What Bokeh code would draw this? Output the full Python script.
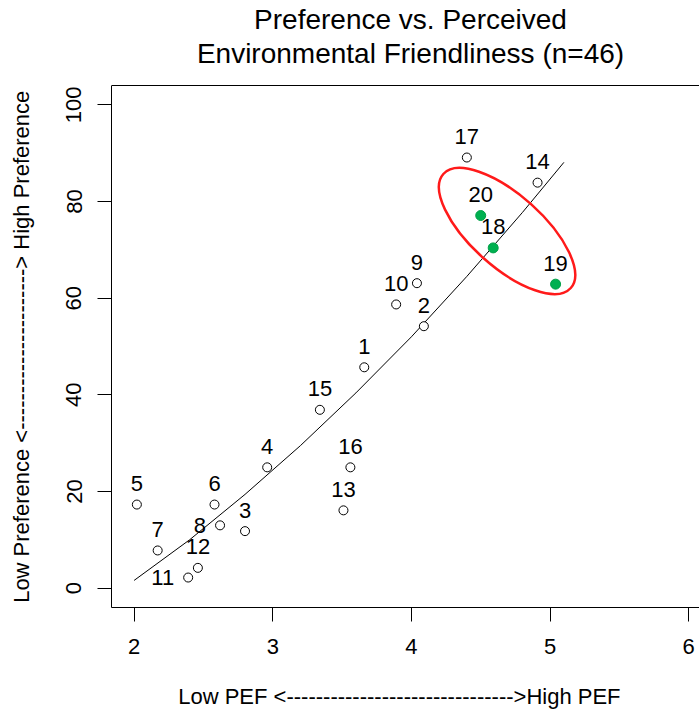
from bokeh.plotting import figure
from bokeh.models import FixedTicker, Span, Label
from bokeh.core.properties import value
from bokeh.embed import file_html
from bokeh.resources import INLINE

# ---- data ----
ids = [str(i) for i in range(1, 21)]
pef = [3.66, 4.09, 2.80, 2.96, 2.02, 2.58, 2.17, 2.62, 4.04, 3.89,
       2.39, 2.46, 3.51, 4.91, 3.34, 3.56, 4.40, 4.59, 5.04, 4.50]
preference = [45.7, 54.2, 11.8, 25.0, 17.3, 17.3, 7.8, 13.0, 63.1, 58.7,
              2.2, 4.2, 16.1, 83.9, 36.9, 25.0, 89.1, 70.4, 62.9, 77.1]
highlighted = ["18", "19", "20"]
left_labelled = ["8", "11"]

fit_x = [2.0, 2.4, 2.8, 3.2, 3.6, 4.0, 4.4, 4.8, 5.1]
fit_y = [1.6, 10.0, 19.4, 29.5, 40.4, 52.0, 64.5, 77.7, 88.1]

ellipse_x = [4.69]
ellipse_y = [73.9]

x_ticks = [2, 3, 4, 5, 6]
y_ticks = [0, 20, 40, 60, 80, 100]

title_lines = ["Preference vs. Perceived", "Environmental Friendliness (n=46)"]

FONT = "Liberation Sans"

# plot box limits (R style, 4% padding) and pixel geometry
X0, X1 = 1.837, 6.078
Y0, Y1 = -4, 104
BOX_TOP_PX = 85
PX_PER_Y = 522 / (Y1 - Y0)
Y_TOP = Y1 + BOX_TOP_PX / PX_PER_Y   # frame extends to canvas top to hold the title

p = figure(width=699, height=716, x_range=(X0, X1), y_range=(Y0, Y_TOP),
           output_backend="svg", toolbar_location=None, title=None,
           min_border_left=111, min_border_right=0, min_border_top=0,
           min_border_bottom=109)
p.outline_line_color = None
p.grid.visible = False
p.background_fill_color = "white"
p.border_fill_color = "white"

# two-line title, each line centred over the plot box (R style)
title_cx = X0 + (410 - 111) / 588 * (X1 - X0)
for line, baseline_px in zip(title_lines, [19, 52.5]):
    p.add_layout(Label(x=title_cx, y=Y_TOP - baseline_px / PX_PER_Y,
                       text=line, text_align="center",
                       text_baseline="alphabetic", text_font=FONT,
                       text_font_size="28px", text_color="black"))

p.xaxis.ticker = FixedTicker(ticks=x_ticks)
p.yaxis.ticker = FixedTicker(ticks=y_ticks)
p.yaxis.bounds = (Y0, Y1)
p.xaxis.axis_label = "Low PEF <" + "-" * 31 + ">High PEF" + "\u00a0" * 2
# trailing no-break spaces keep the label centred on the plot box, not on the frame
p.yaxis.axis_label = ("Low Preference <" + "-" * 22 + "> High Preference"
                      + "\u00a0" * 14)
for ax in (p.xaxis[0], p.yaxis[0]):
    ax.major_tick_in = 0
    ax.major_tick_out = 14
    ax.minor_tick_in = 0
    ax.minor_tick_out = 0
    ax.axis_line_color = "black"
    ax.major_tick_line_color = "black"
    ax.major_label_text_font = FONT
    ax.major_label_text_font_size = "22px"
    ax.major_label_text_color = "black"
    ax.axis_label_text_font = FONT
    ax.axis_label_text_font_size = "22px"
    ax.axis_label_text_font_style = "normal"
    ax.axis_label_text_color = "black"
p.xaxis.major_label_standoff = 17
p.xaxis.axis_label_standoff = 27
p.yaxis.major_label_orientation = "vertical"
p.yaxis.major_label_standoff = 16
p.yaxis.axis_label_standoff = 30

# top border of the plot box
p.add_layout(Span(location=Y1, dimension="width",
                  line_color="black", line_width=1))

# fitted curve
p.line(fit_x, fit_y, line_color="black", line_width=1)

# points
open_x = [x for x, i in zip(pef, ids) if i not in highlighted]
open_y = [y for y, i in zip(preference, ids) if i not in highlighted]
hi_x = [x for x, i in zip(pef, ids) if i in highlighted]
hi_y = [y for y, i in zip(preference, ids) if i in highlighted]
p.scatter(open_x, open_y, marker="circle", size=9, fill_color="white",
          line_color="black", line_width=1)
p.scatter(hi_x, hi_y, marker="circle", size=10, fill_color="#00b050",
          line_color="#00a048", line_width=1)

# labels
ab_x = [x for x, i in zip(pef, ids) if i not in left_labelled]
ab_y = [y for y, i in zip(preference, ids) if i not in left_labelled]
ab_t = [i for i in ids if i not in left_labelled]
lf_x = [x for x, i in zip(pef, ids) if i in left_labelled]
lf_y = [y for y, i in zip(preference, ids) if i in left_labelled]
lf_t = [i for i in ids if i in left_labelled]
p.text(ab_x, ab_y, text=ab_t, text_align="center", text_baseline="middle",
       y_offset=-21, text_font=value(FONT), text_font_size=value("22px"),
       text_color="black")
p.text(lf_x, lf_y, text=lf_t, text_align="right", text_baseline="middle",
       x_offset=-14, text_font=value(FONT), text_font_size=value("22px"),
       text_color="black")

# highlight ellipse
p.ellipse(x=ellipse_x, y=ellipse_y, width=171, height=72,
          width_units="screen", height_units="screen", angle=-0.73,
          fill_color=None, line_color="#ff1a1a", line_width=2.5)

open("out.html", "w").write(file_html(p, INLINE))
